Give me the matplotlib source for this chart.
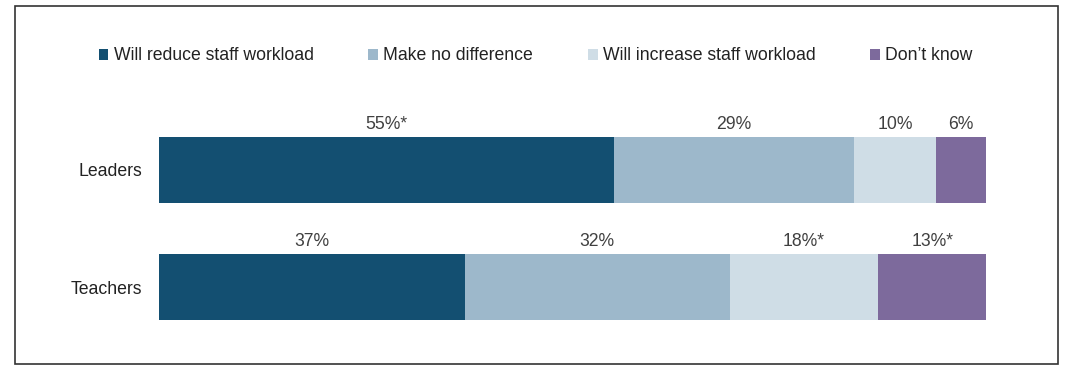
import matplotlib
matplotlib.use("Agg")
import matplotlib.pyplot as plt
import numpy as np
from matplotlib.patches import Rectangle, Patch

plt.rcParams['font.family'] = ['Liberation Sans', 'DejaVu Sans']

groups = ["Leaders", "Teachers"]
series = ["Will reduce staff workload", "Make no difference",
          "Will increase staff workload", "Don\u2019t know"]
colors = ["#134f71", "#9db8cb", "#cfdde6", "#7d6a9c"]
values = [
    [55, 37],
    [29, 32],
    [10, 18],
    [6, 13],
]
value_labels = [
    ["55%*", "37%"],
    ["29%", "32%"],
    ["10%", "18%*"],
    ["6%", "13%*"],
]

W, H = 1080, 374
fs = 12.7
fig = plt.figure(figsize=(W / 100, H / 100), dpi=100)

# frame round the whole chart
fig.patches.append(Rectangle((15 / W, 1 - 364 / H), (1058 - 15) / W, (364 - 6) / H,
                             transform=fig.transFigure, fill=False,
                             edgecolor="#333333", linewidth=1.2))

ax = fig.add_axes([159 / W, 1 - 340 / H, 827 / W, 220 / H])
y = np.arange(len(groups))
left = np.zeros(len(groups))
for vals, labs, col in zip(values, value_labels, colors):
    bars = ax.barh(y, vals, left=left, height=66 / 117, color=col, linewidth=0)
    for b, lab in zip(bars, labs):
        ax.annotate(lab, xy=(b.get_x() + b.get_width() / 2, b.get_y()),
                    xytext=(0, 3), textcoords="offset points",
                    ha="center", va="bottom", fontsize=fs, color="#404040")
    left += np.array(vals)

ax.set_xlim(0, 100)
ax.set_ylim((340 - 170) / 117, (120 - 170) / 117)
ax.set_yticks(y)
ax.set_yticklabels(groups, fontsize=fs, color="#222222")
ax.tick_params(axis="y", length=0, pad=12)
ax.set_xticks([])
for s in ax.spines.values():
    s.set_visible(False)

handles = [Patch(facecolor=c, edgecolor="none") for c in colors]
fig.legend(handles, series, loc="center", bbox_to_anchor=(0.496, 1 - 56 / H),
           ncol=4, frameon=False, fontsize=fs, handlelength=0.55, handleheight=0.55,
           handletextpad=0.3, columnspacing=3.1, labelcolor="#222222")

fig.savefig("out.png", dpi=100)
